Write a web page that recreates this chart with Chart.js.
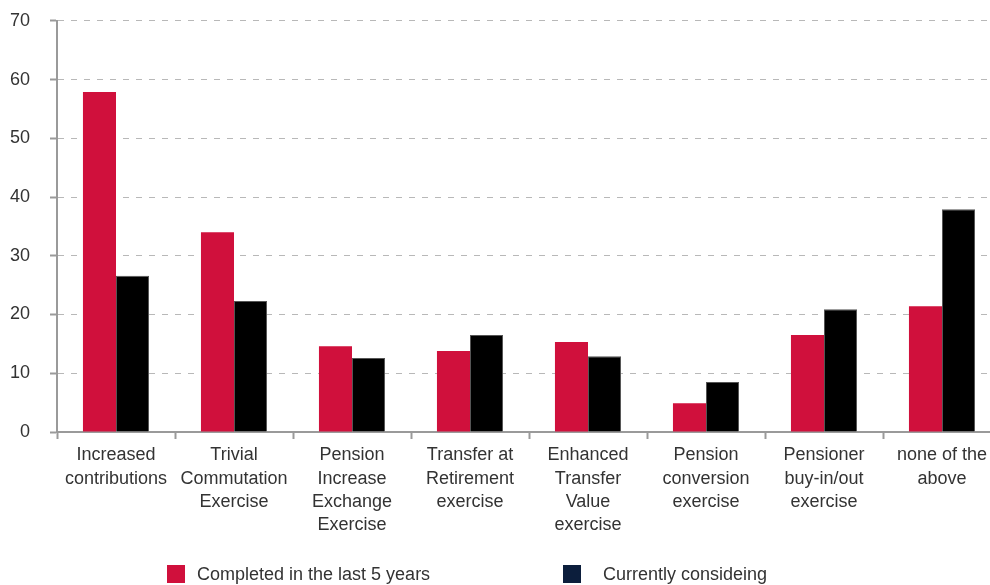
<!DOCTYPE html>
<html>
<head>
<meta charset="utf-8">
<script src="https://cdn.jsdelivr.net/npm/chart.js@4"></script>
<style>
  html, body { margin: 0; padding: 0; background: #fff; overflow: hidden; }
  #wrap { position: relative; width: 990px; height: 585px; overflow: hidden; }
  #chart { position: absolute; left: 0; top: -10px; }
  .key { position: absolute; top: 563px; font: 18px "Liberation Sans", Arial, sans-serif; color: #333; line-height: 20px; white-space: nowrap; }
  .key span { position: absolute; top: 2px; width: 18px; height: 18px; }
</style>
</head>
<body>
<div id="wrap">
  <canvas id="chart" width="1001" height="595"></canvas>
  <div class="key" style="left:167px"><span style="left:0;background:#d0103c"></span><div style="margin-left:30px;padding-top:1px">Completed in the last 5 years</div></div>
  <div class="key" style="left:563px"><span style="left:0;background:#0c1e3c"></span><div style="margin-left:40px;padding-top:1px">Currently consideing</div></div>
</div>
<script>
const categories = [
  ["Increased", "contributions"],
  ["Trivial", "Commutation", "Exercise"],
  ["Pension", "Increase", "Exchange", "Exercise"],
  ["Transfer at", "Retirement", "exercise"],
  ["Enhanced", "Transfer", "Value", "exercise"],
  ["Pension", "conversion", "exercise"],
  ["Pensioner", "buy-in/out", "exercise"],
  ["none of the", "above"]
];
const completed = [57.9, 34.0, 14.6, 13.8, 15.3, 4.9, 16.5, 21.4];
const considering = [26.6, 22.3, 12.6, 16.5, 12.9, 8.5, 20.9, 37.9];
const yTicks = [0, 10, 20, 30, 40, 50, 60, 70];

const axisGrey = "#9a9a9a";
const tickFont = { family: "'Liberation Sans', Arial, sans-serif", size: 18, lineHeight: 1.28 };

// canvas is 10px taller and shifted up, so the plot top lands at y=20
new Chart(document.getElementById("chart"), {
  type: "bar",
  data: {
    labels: categories,
    datasets: [
      { label: "Completed in the last 5 years", data: completed, backgroundColor: "#d0103c",
        categoryPercentage: 0.56, barPercentage: 1 },
      { label: "Currently consideing", data: considering, backgroundColor: "#000",
        borderColor: "#555", borderWidth: 1, borderSkipped: "bottom",
        categoryPercentage: 0.56, barPercentage: 1 }
    ]
  },
  options: {
    responsive: false,
    devicePixelRatio: 1,
    animation: false,
    layout: { padding: { top: 10, bottom: 50, right: 0, left: 0 } },
    plugins: { legend: { display: false }, tooltip: { enabled: false } },
    scales: {
      x: {
        afterFit: s => { s.height = 103; },
        grid: { offset: true, drawOnChartArea: false, tickLength: 7, tickColor: axisGrey, tickWidth: 2 },
        border: { color: axisGrey, width: 2 },
        ticks: { color: "#333", font: tickFont, padding: 5, maxRotation: 0, autoSkip: false }
      },
      y: {
        min: 0,
        max: 70,
        afterFit: s => { s.width = 57; },
        afterBuildTicks: s => { s.ticks = yTicks.map(v => ({ value: v })); },
        grid: { color: "#b8b8b8", tickLength: 7, tickColor: axisGrey, tickWidth: 2 },
        border: { color: axisGrey, width: 2, dash: [6, 7] },
        ticks: { color: "#333", font: { family: tickFont.family, size: 18 }, padding: 20 }
      }
    }
  }
});
</script>
</body>
</html>
